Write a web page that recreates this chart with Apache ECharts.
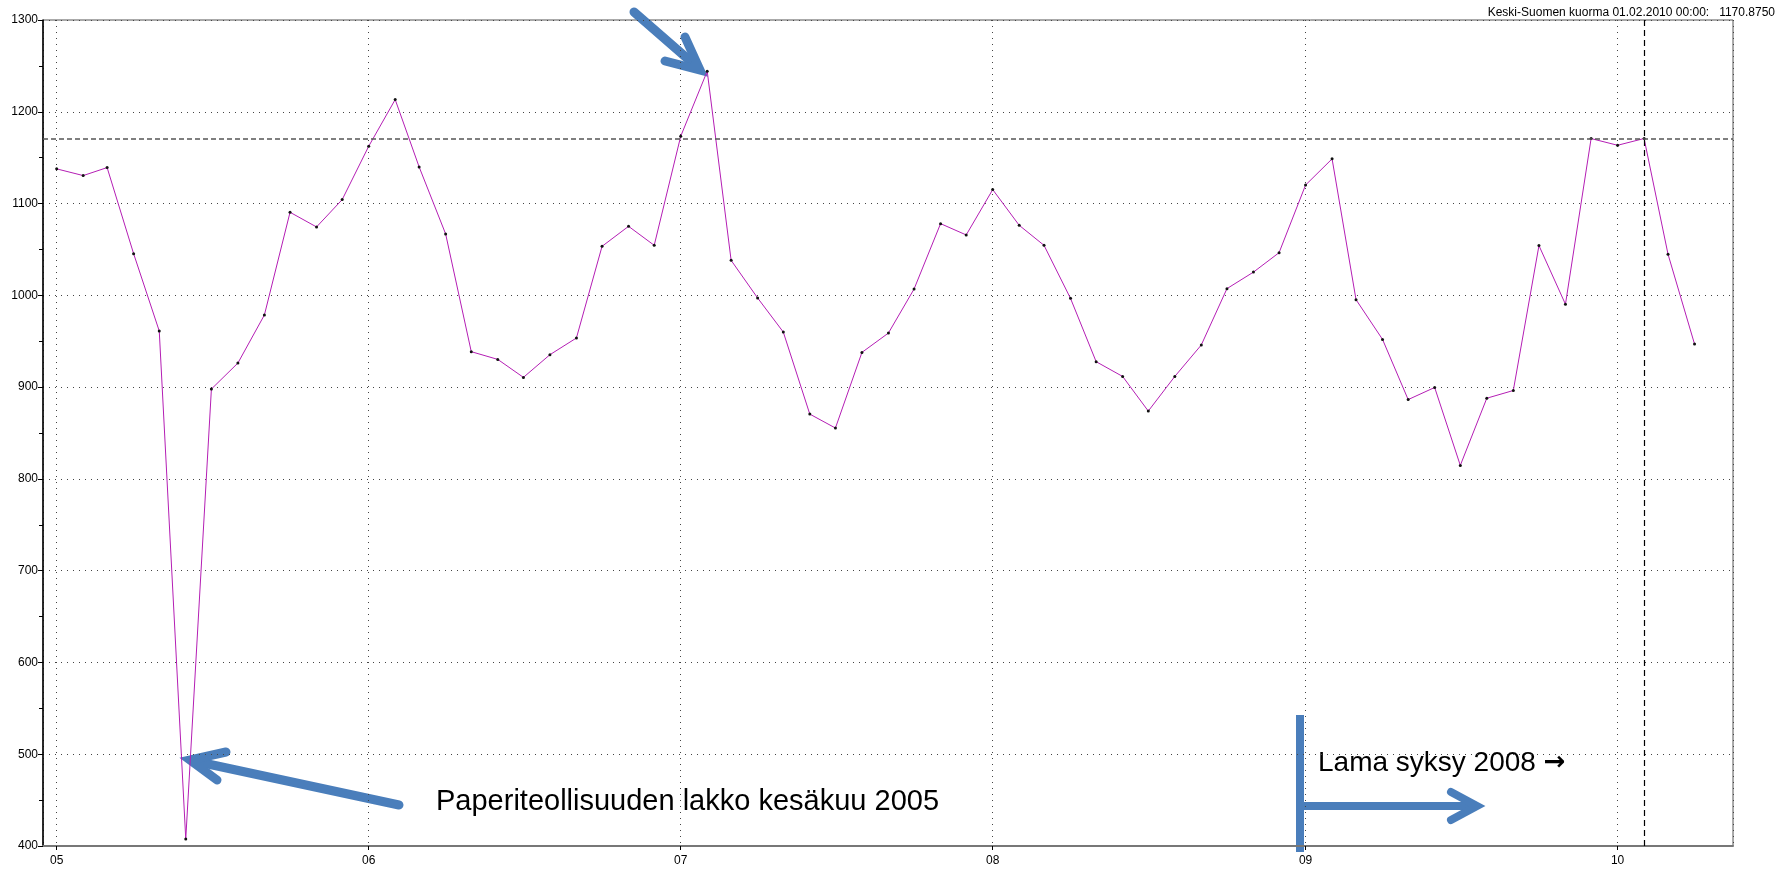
<!DOCTYPE html>
<html lang="fi">
  <head>
    <meta charset="UTF-8" />
    <title>Keski-Suomen kuorma</title>
    <style>
      html, body { margin: 0; padding: 0; background: #fff; }
      #chart { width: 1785px; height: 869px; }
    </style>
  </head>
  <body>
    <div id="chart"></div>
    <script src="https://cdn.jsdelivr.net/npm/echarts@6/dist/echarts.min.js"></script>
    <script>
      // kuukausittainen kuorma, 2005-01 ... 2010-04
      var years = [2005, 2006, 2007, 2008, 2009, 2010];
      var load2005 = [1137.8, 1130.5, 1139.2, 1045.4, 961.1, 407.6, 897.9, 926.2, 978.6, 1090.5, 1074.5, 1104.3];
      var load2006 = [1162.4, 1213.3, 1139.9, 1066.9, 938.6, 930.2, 910.6, 935.3, 953.5, 1053.4, 1075.2, 1054.5];
      var load2007 = [1173.3, 1244.2, 1038.1, 997.1, 960.0, 870.6, 855.4, 937.8, 958.9, 1006.9, 1078.1, 1065.8];
      var load2008 = [1115.2, 1076.3, 1054.5, 996.7, 927.7, 911.6, 873.9, 911.6, 945.9, 1007.3, 1025.3, 1046.5];
      var load2009 = [1120.2, 1148.7, 995.3, 952.0, 886.4, 899.6, 814.7, 887.9, 896.3, 1054.2, 990.3, 1170.8];
      var load2010 = [1163.5, 1170.875, 1044.7, 946.9];

      var cursorDate = [2010, 1, 1];   // 01.02.2010
      var cursorValue = 1170.875;

      var yearly = [load2005, load2006, load2007, load2008, load2009, load2010];
      var data = [];
      yearly.forEach(function (arr, i) {
        arr.forEach(function (v, m) {
          data.push([+new Date(years[i], m, 1), v]);
        });
      });

      var myChart = echarts.init(document.getElementById('chart'));
      var dotted = { color: '#444', width: 1, type: [1, 5] };
      var font = 'Liberation Sans, Arial, sans-serif';
      var blue = '#4a7ebb';

      var option = {
        animation: false,
        grid: {
          left: 43, top: 20, right: 52, bottom: 23,
          show: true, borderColor: '#555', borderWidth: 1
        },
        xAxis: {
          type: 'time',
          min: +new Date(2004, 11, 16),
          max: +new Date(2010, 4, 16),
          axisLine: { lineStyle: { color: '#777', width: 2 } },
          axisTick: { show: true, length: 4, lineStyle: { color: '#000' } },
          axisLabel: {
            fontSize: 12, fontFamily: font, color: '#000', margin: 9,
            formatter: function (val) {
              return String(new Date(val).getFullYear()).slice(2);
            }
          },
          splitLine: { show: true, lineStyle: dotted }
        },
        yAxis: {
          type: 'value',
          min: 400, max: 1300, interval: 100,
          axisLine: { show: true, lineStyle: { color: '#000', width: 1.5 } },
          axisTick: { show: true, length: 5, lineStyle: { color: '#000' } },
          minorTick: { show: true, splitNumber: 2, length: 4, lineStyle: { color: '#000' } },
          axisLabel: {
            fontSize: 12, fontFamily: font, color: '#000', margin: 5,
            formatter: function (v) { return String(v); }
          },
          splitLine: { show: true, lineStyle: dotted }
        },
        series: [{
          type: 'line',
          data: data,
          symbol: 'circle',
          symbolSize: 3,
          showAllSymbol: true,
          itemStyle: { color: '#111' },
          lineStyle: { color: '#b41eb4', width: 1 },
          markLine: {
            silent: true,
            symbol: ['none', 'none'],
            label: { show: false },
            data: [
              { yAxis: cursorValue, lineStyle: { color: '#555', width: 1.5, type: [5, 3] } },
              { xAxis: +new Date(cursorDate[0], cursorDate[1], cursorDate[2]),
                lineStyle: { color: '#000', width: 1.2, type: [6, 4] } }
            ]
          }
        }],
        graphic: [
          {
            type: 'text', right: 10, top: 7,
            style: {
              text: 'Keski-Suomen kuorma 01.02.2010 00:00:   1170.8750',
              font: '12px ' + font, fill: '#000'
            }
          },
          // nuoli: lakko
          { type: 'polyline', shape: { points: [[399, 805], [194, 761]] },
            style: { stroke: blue, lineWidth: 9, lineCap: 'round', fill: null } },
          { type: 'polyline', shape: { points: [[226, 752], [190, 760], [217, 780]] },
            style: { stroke: blue, lineWidth: 9, lineCap: 'round', lineJoin: 'miter', fill: null } },
          // nuoli: huippu 2007
          { type: 'polyline', shape: { points: [[634, 12], [696, 66]] },
            style: { stroke: blue, lineWidth: 9, lineCap: 'round', fill: null } },
          { type: 'polyline', shape: { points: [[685, 37], [700, 70], [665, 61]] },
            style: { stroke: blue, lineWidth: 9, lineCap: 'round', lineJoin: 'miter', fill: null } },
          // lama
          { type: 'polyline', shape: { points: [[1300, 715], [1300, 852]] },
            style: { stroke: blue, lineWidth: 8, lineCap: 'butt', fill: null } },
          { type: 'polyline', shape: { points: [[1300, 806], [1474, 806]] },
            style: { stroke: blue, lineWidth: 8, lineCap: 'butt', fill: null } },
          { type: 'polyline', shape: { points: [[1451, 792], [1477, 806], [1451, 820]] },
            style: { stroke: blue, lineWidth: 8, lineCap: 'round', lineJoin: 'miter', fill: null } },
          {
            type: 'text', left: 436, top: 787,
            style: { text: 'Paperiteollisuuden lakko kesäkuu 2005', font: '29px ' + font, fill: '#000' }
          },
          {
            type: 'text', left: 1318, top: 749,
            style: {
              text: 'Lama syksy 2008 {a|\u2192}',
              font: '28px ' + font, fill: '#000',
              rich: { a: { fontFamily: 'DejaVu Sans', fontSize: 26, fontWeight: 'bold', fill: '#000' } }
            }
          }
        ]
      };
      myChart.setOption(option);
    </script>
  </body>
</html>
